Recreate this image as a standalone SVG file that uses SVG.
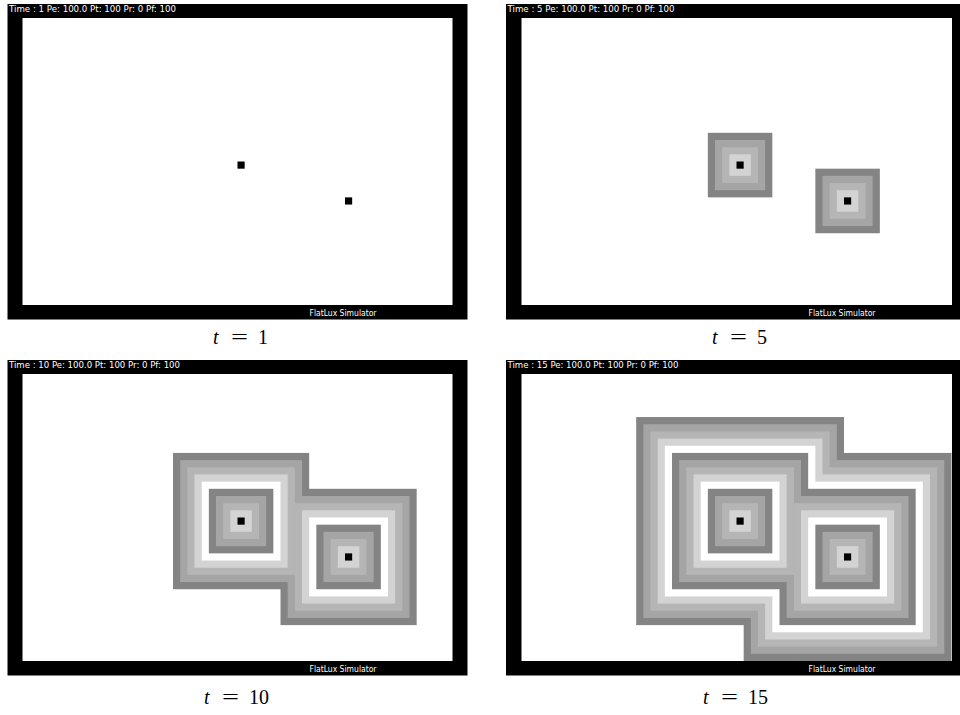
<svg xmlns="http://www.w3.org/2000/svg" xmlns:xlink="http://www.w3.org/1999/xlink" width="960" height="715" viewBox="0 0 960 715">
<style>
.frame{fill:#000}
.field{fill:#fff}
.hdr{font-family:"DejaVu Sans","Liberation Sans",sans-serif;font-size:8px;fill:#fff}
.ftr{font-family:"DejaVu Sans","Liberation Sans",sans-serif;font-size:8px;fill:#fff}
.lbl{font-family:"Liberation Serif","DejaVu Serif",serif;font-size:20px;fill:#000}
.it{font-style:italic}
.c0{fill:#fff}
.c1{fill:#d3d3d3}
.c2{fill:#b5b5b5}
.c3{fill:#a5a5a5}
.c4{fill:#848484}
.dot{fill:#000}
</style>
<defs>
<g id="dots">
<rect class="dot" x="30" y="20" width="1" height="1"/>
<rect class="dot" x="45" y="25" width="1" height="1"/>
</g>
<g id="r1_4">
<rect class="c4" x="26" y="16" width="9" height="9"/><rect class="c4" x="41" y="21" width="9" height="9"/>
<rect class="c3" x="27" y="17" width="7" height="7"/><rect class="c3" x="42" y="22" width="7" height="7"/>
<rect class="c2" x="28" y="18" width="5" height="5"/><rect class="c2" x="43" y="23" width="5" height="5"/>
<rect class="c1" x="29" y="19" width="3" height="3"/><rect class="c1" x="44" y="24" width="3" height="3"/>
</g>
<g id="r5_9">
<rect class="c4" x="21" y="11" width="19" height="19"/><rect class="c4" x="36" y="16" width="19" height="19"/>
<rect class="c3" x="22" y="12" width="17" height="17"/><rect class="c3" x="37" y="17" width="17" height="17"/>
<rect class="c2" x="23" y="13" width="15" height="15"/><rect class="c2" x="38" y="18" width="15" height="15"/>
<rect class="c1" x="24" y="14" width="13" height="13"/><rect class="c1" x="39" y="19" width="13" height="13"/>
<rect class="c0" x="25" y="15" width="11" height="11"/><rect class="c0" x="40" y="20" width="11" height="11"/>
</g>
<g id="r10_14">
<rect class="c4" x="16" y="6" width="29" height="29"/><rect class="c4" x="31" y="11" width="29" height="29"/>
<rect class="c3" x="17" y="7" width="27" height="27"/><rect class="c3" x="32" y="12" width="27" height="27"/>
<rect class="c2" x="18" y="8" width="25" height="25"/><rect class="c2" x="33" y="13" width="25" height="25"/>
<rect class="c1" x="19" y="9" width="23" height="23"/><rect class="c1" x="34" y="14" width="23" height="23"/>
<rect class="c0" x="20" y="10" width="21" height="21"/><rect class="c0" x="35" y="15" width="21" height="21"/>
</g>
</defs>

<g id="panel-t1">
<rect class="frame" x="7.5" y="4" width="460" height="315.5"/>
<rect class="field" x="22.5" y="18" width="430" height="287"/>
<g transform="translate(22.5,18) scale(7.1667,7.175)">
<use xlink:href="#dots"/>
</g>
<text class="hdr" x="9" y="12" textLength="167" lengthAdjust="spacingAndGlyphs">Time : 1 Pe: 100.0 Pt: 100 Pr: 0 Pf: 100</text>
<text class="ftr" x="309.5" y="316" textLength="67" lengthAdjust="spacingAndGlyphs">FlatLux Simulator</text>
<text class="lbl" y="343.5"><tspan class="it" x="213">t</tspan></text>
<text class="lbl" y="343.5" x="231" textLength="17" lengthAdjust="spacingAndGlyphs">=</text>
<text class="lbl" y="343.5" x="258">1</text>
</g>

<g id="panel-t5">
<rect class="frame" x="506" y="4" width="454" height="315.5"/>
<rect class="field" x="521.5" y="18" width="430.5" height="287"/>
<g transform="translate(521.5,18) scale(7.1667,7.175)">
<use xlink:href="#r1_4"/>
<use xlink:href="#dots"/>
</g>
<text class="hdr" x="507.5" y="12" textLength="167" lengthAdjust="spacingAndGlyphs">Time : 5 Pe: 100.0 Pt: 100 Pr: 0 Pf: 100</text>
<text class="ftr" x="808.5" y="316" textLength="67" lengthAdjust="spacingAndGlyphs">FlatLux Simulator</text>
<text class="lbl" y="343.5"><tspan class="it" x="712">t</tspan></text>
<text class="lbl" y="343.5" x="730" textLength="17" lengthAdjust="spacingAndGlyphs">=</text>
<text class="lbl" y="343.5" x="757">5</text>
</g>

<g id="panel-t10">
<rect class="frame" x="7.5" y="360" width="460" height="315.5"/>
<rect class="field" x="22.5" y="374" width="430" height="287"/>
<g transform="translate(22.5,374) scale(7.1667,7.175)">
<use xlink:href="#r5_9"/>
<use xlink:href="#r1_4"/>
<use xlink:href="#dots"/>
</g>
<text class="hdr" x="9" y="368" textLength="171" lengthAdjust="spacingAndGlyphs">Time : 10 Pe: 100.0 Pt: 100 Pr: 0 Pf: 100</text>
<text class="ftr" x="309.5" y="672" textLength="67" lengthAdjust="spacingAndGlyphs">FlatLux Simulator</text>
<text class="lbl" y="704"><tspan class="it" x="204">t</tspan></text>
<text class="lbl" y="704" x="222" textLength="17" lengthAdjust="spacingAndGlyphs">=</text>
<text class="lbl" y="704" x="249">10</text>
</g>

<g id="panel-t15">
<rect class="frame" x="506" y="360" width="454" height="315.5"/>
<rect class="field" x="521.5" y="374" width="430.5" height="287"/>
<g transform="translate(521.5,374) scale(7.1667,7.175)">
<use xlink:href="#r10_14"/>
<use xlink:href="#r5_9"/>
<use xlink:href="#r1_4"/>
<use xlink:href="#dots"/>
</g>
<text class="hdr" x="507.5" y="368" textLength="171" lengthAdjust="spacingAndGlyphs">Time : 15 Pe: 100.0 Pt: 100 Pr: 0 Pf: 100</text>
<text class="ftr" x="808.5" y="672" textLength="67" lengthAdjust="spacingAndGlyphs">FlatLux Simulator</text>
<text class="lbl" y="704"><tspan class="it" x="703">t</tspan></text>
<text class="lbl" y="704" x="721" textLength="17" lengthAdjust="spacingAndGlyphs">=</text>
<text class="lbl" y="704" x="748">15</text>
</g>
</svg>
